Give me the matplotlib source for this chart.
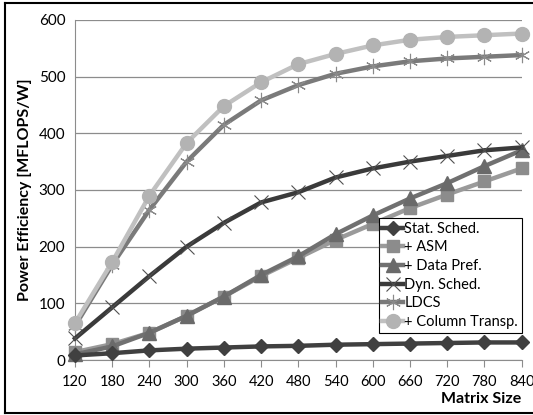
import matplotlib
matplotlib.use("Agg")
import matplotlib.pyplot as plt
from matplotlib.lines import Line2D

sizes = [120, 180, 240, 300, 360, 420, 480, 540, 600, 660, 720, 780, 840]
stat_sched = [8, 12, 17, 20, 22, 24, 25, 27, 28, 29, 30, 31, 31]
asm = [14, 28, 48, 78, 112, 148, 180, 212, 240, 268, 292, 315, 338]
data_pref = [10, 24, 48, 78, 112, 150, 183, 222, 255, 285, 312, 342, 370]
dyn_sched = [38, 93, 148, 200, 242, 278, 296, 322, 338, 350, 360, 370, 375]
ldcs = [60, 168, 265, 350, 415, 458, 485, 505, 518, 527, 532, 535, 538]
col_transp = [65, 173, 290, 383, 448, 490, 522, 540, 555, 565, 570, 573, 576]
labels = ["Stat. Sched.", "+ ASM", "+ Data Pref.", "Dyn. Sched.", "LDCS", "+ Column Transp."]

plt.rcParams['font.family'] = ['Lato', 'DejaVu Sans']
fig = plt.figure(figsize=(5.33, 4.15), dpi=100)
ax = fig.add_axes([0.1407, 0.1325, 0.838, 0.8195])

lw = 3.2
ax.plot(sizes, stat_sched, color='#404040', lw=lw, marker='D', ms=7, mfc='#404040', mec='#404040', label=labels[0], zorder=5)
ax.plot(sizes, asm, color='#9a9a9a', lw=lw, marker='s', ms=9, mfc='#8c8c8c', mec='#8c8c8c', label=labels[1], zorder=3)
ax.plot(sizes, data_pref, color='#707070', lw=lw, marker='^', ms=10, mfc='#6a6a6a', mec='#6a6a6a', label=labels[2], zorder=4)
ax.plot(sizes, dyn_sched, color='#3a3a3a', lw=lw, marker='x', ms=10, mew=0.8, mec='#505050', label=labels[3], zorder=4)
ax.plot(sizes, ldcs, color='#7a7a7a', lw=lw, marker=(6, 2, 0), ms=11, mew=0.8, mec='#8a8a8a', label=labels[4], zorder=3)
ax.plot(sizes, col_transp, color='#c0c0c0', lw=lw, marker='o', ms=10, mfc='#b3b3b3', mec='#b3b3b3', label=labels[5], zorder=3)

ax.set_xlim(120, 840)
ax.set_ylim(0, 600)
ax.set_yticks(range(0, 601, 100))
ax.set_xticks(sizes)
ax.set_xticklabels([str(s) for s in sizes])
ax.grid(axis='y', color='#8c8c8c', lw=0.9)
ax.set_axisbelow(True)
for s in ['top', 'right']:
    ax.spines[s].set_visible(False)
ax.spines['left'].set_color('#8c8c8c')
ax.spines['bottom'].set_color('#8c8c8c')
ax.tick_params(axis='y', length=0, labelsize=11, pad=7, colors='black')
ax.tick_params(axis='x', length=5, color='#8c8c8c', labelsize=10.5, pad=6)
ax.set_ylabel("Power Efficiency [MFLOPS/W]", fontsize=11.5, fontweight='bold', labelpad=5)
ax.set_xlabel("Matrix Size", fontsize=11.5, fontweight='bold', loc='right', labelpad=2)

leg = ax.legend(loc='lower right', bbox_to_anchor=(1.0, 0.08), fontsize=10.5, frameon=True,
                fancybox=False, edgecolor='black', handlelength=1.4, handletextpad=0.1,
                labelspacing=0.32, borderpad=0.25, borderaxespad=0, framealpha=1)
leg.get_frame().set_linewidth(0.8)
leg.set_zorder(10)
for line in ax.get_lines():
    line.set_clip_on(False)

# outer frame: left, top, bottom (right edge lies beyond the image)
W, H = 533, 415
fx = lambda p: p / W
fy = lambda p: 1 - p / H
for xs, ys in [([fx(5), fx(5)], [fy(3), fy(413)]),
               ([fx(5), 1.0], [fy(3), fy(3)]),
               ([fx(5), 1.0], [fy(413), fy(413)])]:
    fig.add_artist(Line2D(xs, ys, transform=fig.transFigure, color='black', lw=1.5))
fig.savefig("out.png", dpi=100)
